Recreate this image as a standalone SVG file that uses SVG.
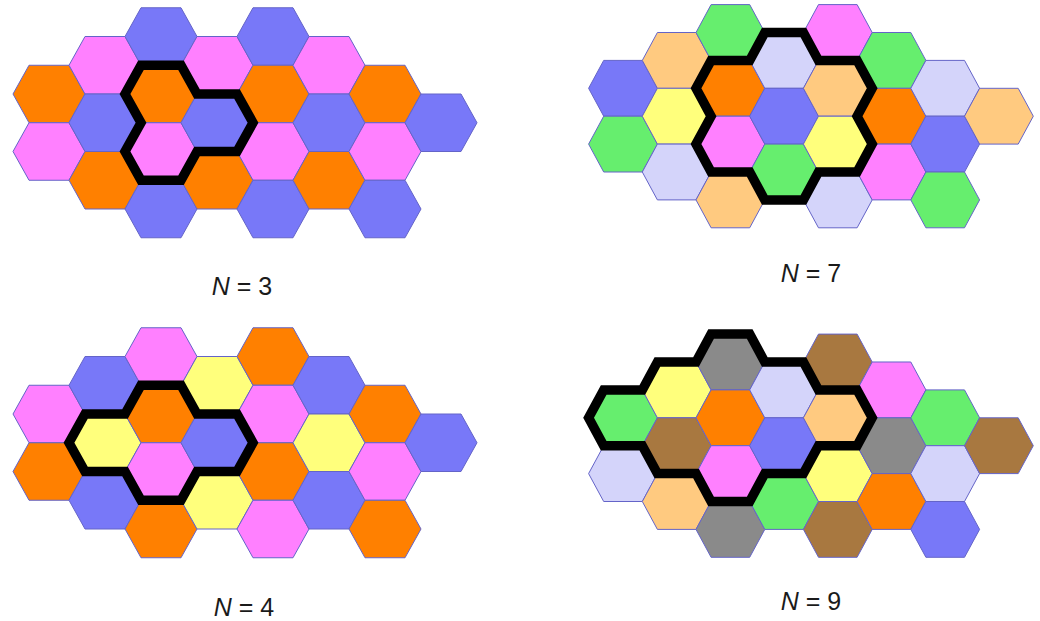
<svg xmlns="http://www.w3.org/2000/svg" xmlns:xlink="http://www.w3.org/1999/xlink" width="1040" height="621" viewBox="0 0 1040 621">
<style>
.O{fill:#FF8000}.P{fill:#FF80FF}.B{fill:#7878F8}.Y{fill:#FFFF7C}.G{fill:#66EE6E}.L{fill:#D4D4FA}.T{fill:#FFCA80}.Gr{fill:#8A8A8A}.Br{fill:#A87840}
use{stroke:#6464C8;stroke-width:1}
.ring{fill:none;stroke:#000;stroke-width:9.5;stroke-linejoin:miter}
.lbl{font-family:"Liberation Sans",Arial,sans-serif;font-size:25px;fill:#1a1a1a;text-anchor:middle}
</style>
<defs>
<polygon id="hA" points="-36,0 -20,-28.75 20,-28.75 36,0 20,28.75 -20,28.75"/>
<polygon id="hB" points="-34.4,0 -19.3,-27.9 19.3,-27.9 34.4,0 19.3,27.9 -19.3,27.9"/>
</defs>
<rect width="1040" height="621" fill="#fff"/>

<g id="panel-n3">
<use id="p1-0-2" href="#hA" x="49" y="94" class="O"/>
<use id="p1-0-4" href="#hA" x="49" y="151.5" class="P"/>
<use id="p1-1-1" href="#hA" x="105" y="65.25" class="P"/>
<use id="p1-1-3" href="#hA" x="105" y="122.75" class="B"/>
<use id="p1-1-5" href="#hA" x="105" y="180.25" class="O"/>
<use id="p1-2-0" href="#hA" x="161" y="36.5" class="B"/>
<use id="p1-2-2" href="#hA" x="161" y="94" class="O"/>
<use id="p1-2-4" href="#hA" x="161" y="151.5" class="P"/>
<use id="p1-2-6" href="#hA" x="161" y="209" class="B"/>
<use id="p1-3-1" href="#hA" x="217" y="65.25" class="P"/>
<use id="p1-3-3" href="#hA" x="217" y="122.75" class="B"/>
<use id="p1-3-5" href="#hA" x="217" y="180.25" class="O"/>
<use id="p1-4-0" href="#hA" x="273" y="36.5" class="B"/>
<use id="p1-4-2" href="#hA" x="273" y="94" class="O"/>
<use id="p1-4-4" href="#hA" x="273" y="151.5" class="P"/>
<use id="p1-4-6" href="#hA" x="273" y="209" class="B"/>
<use id="p1-5-1" href="#hA" x="329" y="65.25" class="P"/>
<use id="p1-5-3" href="#hA" x="329" y="122.75" class="B"/>
<use id="p1-5-5" href="#hA" x="329" y="180.25" class="O"/>
<use id="p1-6-2" href="#hA" x="385" y="94" class="O"/>
<use id="p1-6-4" href="#hA" x="385" y="151.5" class="P"/>
<use id="p1-6-6" href="#hA" x="385" y="209" class="B"/>
<use id="p1-7-3" href="#hA" x="441" y="122.75" class="B"/>
<path id="p1-cluster" class="ring" d="M125,94 L141,65.25 L181,65.25 L197,94 L237,94 L253,122.75 L237,151.5 L197,151.5 L181,180.25 L141,180.25 L125,151.5 L141,122.75 Z"/>
<text id="p1-label" class="lbl" x="242" y="295"><tspan font-style="italic">N</tspan> = 3</text>
</g>

<g id="panel-n7">
<use id="p2-0-2" href="#hB" x="623" y="88.3" class="B"/>
<use id="p2-0-4" href="#hB" x="623" y="144.1" class="G"/>
<use id="p2-1-1" href="#hB" x="676.7" y="60.4" class="T"/>
<use id="p2-1-3" href="#hB" x="676.7" y="116.2" class="Y"/>
<use id="p2-1-5" href="#hB" x="676.7" y="172" class="L"/>
<use id="p2-2-0" href="#hB" x="730.4" y="32.5" class="G"/>
<use id="p2-2-2" href="#hB" x="730.4" y="88.3" class="O"/>
<use id="p2-2-4" href="#hB" x="730.4" y="144.1" class="P"/>
<use id="p2-2-6" href="#hB" x="730.4" y="199.9" class="T"/>
<use id="p2-3-1" href="#hB" x="784.1" y="60.4" class="L"/>
<use id="p2-3-3" href="#hB" x="784.1" y="116.2" class="B"/>
<use id="p2-3-5" href="#hB" x="784.1" y="172" class="G"/>
<use id="p2-4-0" href="#hB" x="837.8" y="32.5" class="P"/>
<use id="p2-4-2" href="#hB" x="837.8" y="88.3" class="T"/>
<use id="p2-4-4" href="#hB" x="837.8" y="144.1" class="Y"/>
<use id="p2-4-6" href="#hB" x="837.8" y="199.9" class="L"/>
<use id="p2-5-1" href="#hB" x="891.5" y="60.4" class="G"/>
<use id="p2-5-3" href="#hB" x="891.5" y="116.2" class="O"/>
<use id="p2-5-5" href="#hB" x="891.5" y="172" class="P"/>
<use id="p2-6-2" href="#hB" x="945.2" y="88.3" class="L"/>
<use id="p2-6-4" href="#hB" x="945.2" y="144.1" class="B"/>
<use id="p2-6-6" href="#hB" x="945.2" y="199.9" class="G"/>
<use id="p2-7-3" href="#hB" x="998.9" y="116.2" class="T"/>
<path id="p2-cluster" class="ring" d="M764.8,32.5 L803.4,32.5 L818.5,60.4 L857.1,60.4 L872.2,88.3 L857.1,116.2 L872.2,144.1 L857.1,172 L818.5,172 L803.4,199.9 L764.8,199.9 L749.7,172 L711.1,172 L696,144.1 L711.1,116.2 L696,88.3 L711.1,60.4 L749.7,60.4 Z"/>
<text id="p2-label" class="lbl" x="811" y="282"><tspan font-style="italic">N</tspan> = 7</text>
</g>

<g id="panel-n4">
<use id="p3-0-2" href="#hA" x="49" y="414" class="P"/>
<use id="p3-0-4" href="#hA" x="49" y="471.5" class="O"/>
<use id="p3-1-1" href="#hA" x="105" y="385.25" class="B"/>
<use id="p3-1-3" href="#hA" x="105" y="442.75" class="Y"/>
<use id="p3-1-5" href="#hA" x="105" y="500.25" class="B"/>
<use id="p3-2-0" href="#hA" x="161" y="356.5" class="P"/>
<use id="p3-2-2" href="#hA" x="161" y="414" class="O"/>
<use id="p3-2-4" href="#hA" x="161" y="471.5" class="P"/>
<use id="p3-2-6" href="#hA" x="161" y="529" class="O"/>
<use id="p3-3-1" href="#hA" x="217" y="385.25" class="Y"/>
<use id="p3-3-3" href="#hA" x="217" y="442.75" class="B"/>
<use id="p3-3-5" href="#hA" x="217" y="500.25" class="Y"/>
<use id="p3-4-0" href="#hA" x="273" y="356.5" class="O"/>
<use id="p3-4-2" href="#hA" x="273" y="414" class="P"/>
<use id="p3-4-4" href="#hA" x="273" y="471.5" class="O"/>
<use id="p3-4-6" href="#hA" x="273" y="529" class="P"/>
<use id="p3-5-1" href="#hA" x="329" y="385.25" class="B"/>
<use id="p3-5-3" href="#hA" x="329" y="442.75" class="Y"/>
<use id="p3-5-5" href="#hA" x="329" y="500.25" class="B"/>
<use id="p3-6-2" href="#hA" x="385" y="414" class="O"/>
<use id="p3-6-4" href="#hA" x="385" y="471.5" class="P"/>
<use id="p3-6-6" href="#hA" x="385" y="529" class="O"/>
<use id="p3-7-3" href="#hA" x="441" y="442.75" class="B"/>
<path id="p3-cluster" class="ring" d="M69,442.75 L85,414 L125,414 L141,385.25 L181,385.25 L197,414 L237,414 L253,442.75 L237,471.5 L197,471.5 L181,500.25 L141,500.25 L125,471.5 L85,471.5 Z"/>
<text id="p3-label" class="lbl" x="244" y="616"><tspan font-style="italic">N</tspan> = 4</text>
</g>

<g id="panel-n9">
<use id="p4-0-2" href="#hB" x="623" y="417.8" class="G"/>
<use id="p4-0-4" href="#hB" x="623" y="473.6" class="L"/>
<use id="p4-1-1" href="#hB" x="676.7" y="389.9" class="Y"/>
<use id="p4-1-3" href="#hB" x="676.7" y="445.7" class="Br"/>
<use id="p4-1-5" href="#hB" x="676.7" y="501.5" class="T"/>
<use id="p4-2-0" href="#hB" x="730.4" y="362" class="Gr"/>
<use id="p4-2-2" href="#hB" x="730.4" y="417.8" class="O"/>
<use id="p4-2-4" href="#hB" x="730.4" y="473.6" class="P"/>
<use id="p4-2-6" href="#hB" x="730.4" y="529.4" class="Gr"/>
<use id="p4-3-1" href="#hB" x="784.1" y="389.9" class="L"/>
<use id="p4-3-3" href="#hB" x="784.1" y="445.7" class="B"/>
<use id="p4-3-5" href="#hB" x="784.1" y="501.5" class="G"/>
<use id="p4-4-0" href="#hB" x="837.8" y="362" class="Br"/>
<use id="p4-4-2" href="#hB" x="837.8" y="417.8" class="T"/>
<use id="p4-4-4" href="#hB" x="837.8" y="473.6" class="Y"/>
<use id="p4-4-6" href="#hB" x="837.8" y="529.4" class="Br"/>
<use id="p4-5-1" href="#hB" x="891.5" y="389.9" class="P"/>
<use id="p4-5-3" href="#hB" x="891.5" y="445.7" class="Gr"/>
<use id="p4-5-5" href="#hB" x="891.5" y="501.5" class="O"/>
<use id="p4-6-2" href="#hB" x="945.2" y="417.8" class="G"/>
<use id="p4-6-4" href="#hB" x="945.2" y="473.6" class="L"/>
<use id="p4-6-6" href="#hB" x="945.2" y="529.4" class="B"/>
<use id="p4-7-3" href="#hB" x="998.9" y="445.7" class="Br"/>
<path id="p4-cluster" class="ring" d="M711.1,334.1 L749.7,334.1 L764.8,362 L803.4,362 L818.5,389.9 L857.1,389.9 L872.2,417.8 L857.1,445.7 L818.5,445.7 L803.4,473.6 L764.8,473.6 L749.7,501.5 L711.1,501.5 L696,473.6 L657.4,473.6 L642.3,445.7 L603.7,445.7 L588.6,417.8 L603.7,389.9 L642.3,389.9 L657.4,362 L696,362 Z"/>
<text id="p4-label" class="lbl" x="811" y="610"><tspan font-style="italic">N</tspan> = 9</text>
</g>
</svg>
